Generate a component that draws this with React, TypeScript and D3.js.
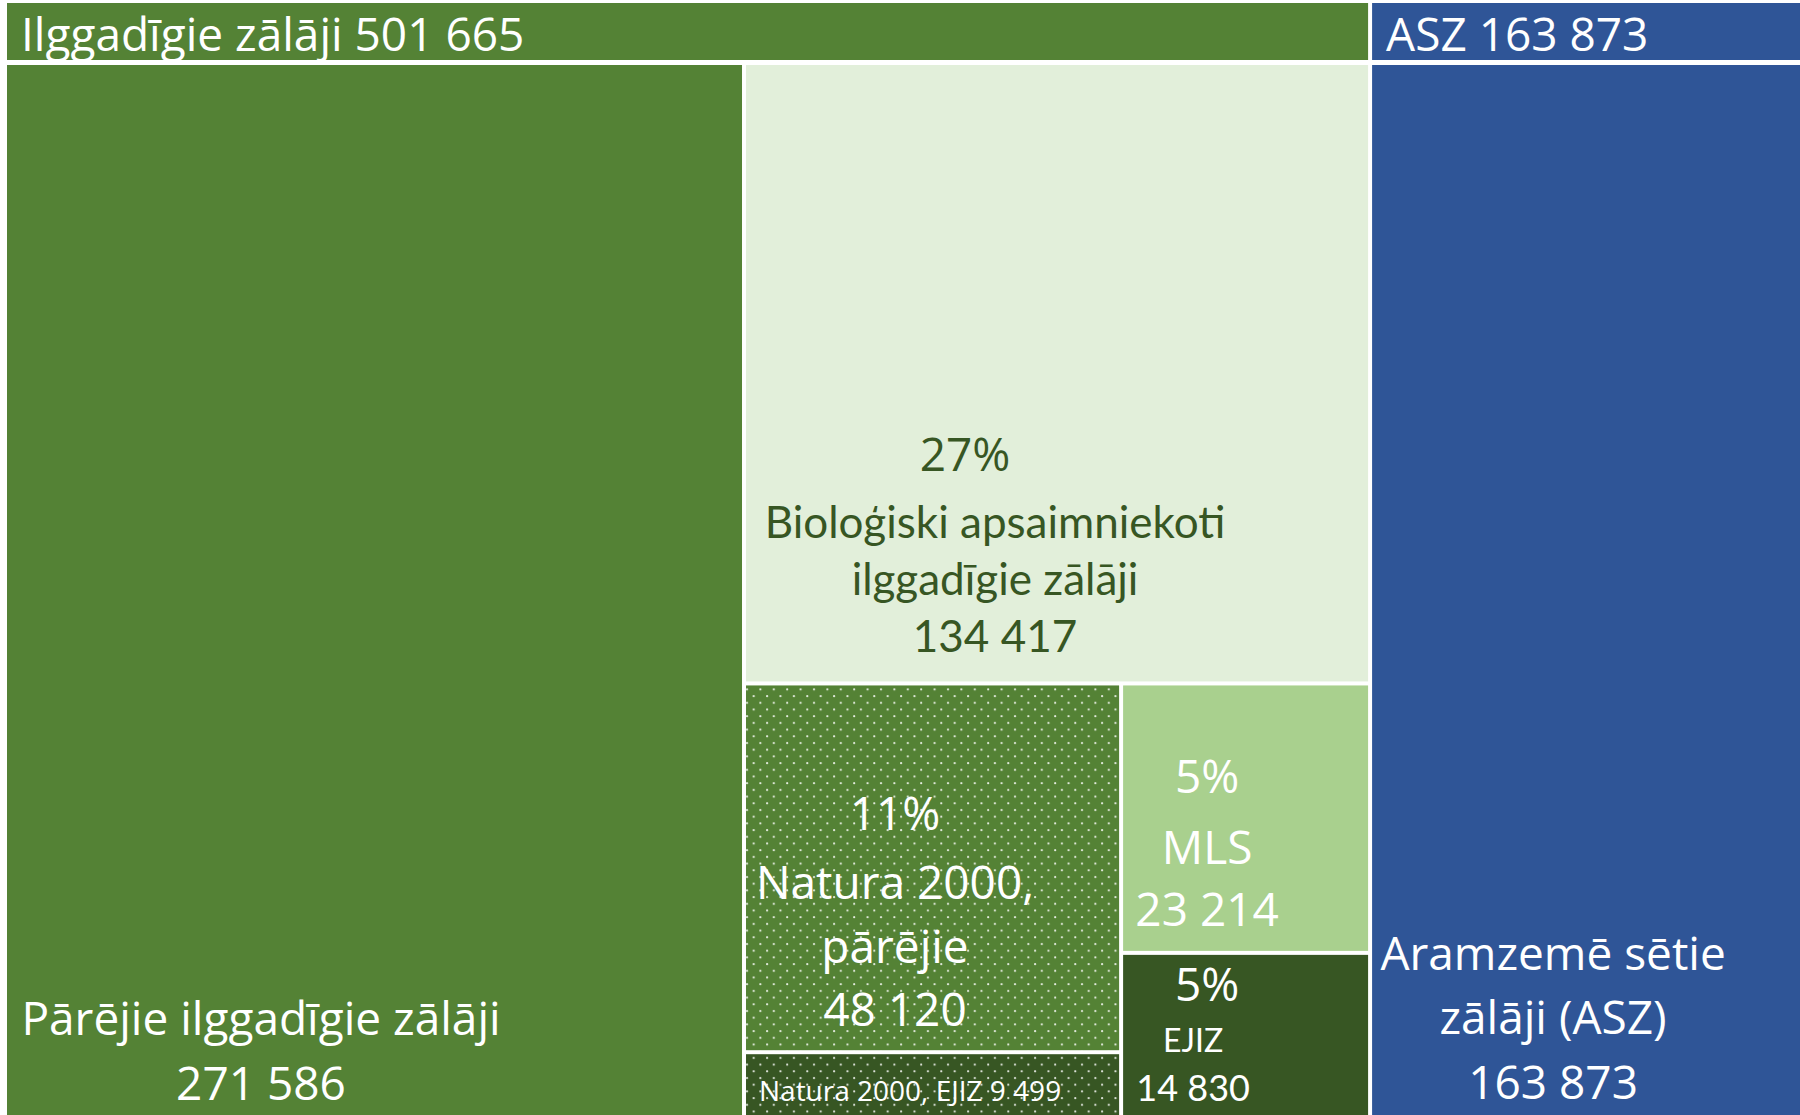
import React from "react";
import * as d3 from "d3";

// ---- data ----
const groupNames = ["Ilggadīgie zālāji", "ASZ"];
const groupTotals = [501665, 163873];
const leafNames = [
  "Pārējie ilggadīgie zālāji",
  "Bioloģiski apsaimniekoti ilggadīgie zālāji",
  "Natura 2000, pārējie",
  "Natura 2000, EJIZ",
  "MLS",
  "EJIZ",
  "Aramzemē sētie zālāji (ASZ)",
];
const leafValues = [271586, 134417, 48120, 9499, 23214, 14830, 163873];
const leafPercents: (number | null)[] = [null, 27, 11, null, 5, 5, null];

// ---- style ----
const W = 1800;
const H = 1115;
const GREEN = "#548235";
const DARK = "#375623";
const LIGHT = "#E2EFDA";
const MID = "#A9D08E";
const BLUE = "#2F5597";
const leafColors = [GREEN, LIGHT, GREEN, DARK, MID, DARK, BLUE];
const leafDotted = [false, false, true, true, false, false, false];
const SEGOE = "'Open Sans', 'Noto Sans', sans-serif";
const CALIBRI = "Lato, 'Noto Sans', sans-serif";

const fmt = (v: number) => d3.format(",")(v).replace(/,/g, " ");

type Line = { t: string; dx: number; dy: number; from: "top" | "bottom"; size: number; font: string; anchor: string };

function labelLines(i: number): Line[] {
  const v = fmt(leafValues[i]);
  const p = leafPercents[i] != null ? `${leafPercents[i]}%` : "";
  switch (i) {
    case 0:
      return [
        { t: "Pārējie ilggadīgie zālāji", dx: 254, dy: -88, from: "bottom", size: 46, font: SEGOE, anchor: "middle" },
        { t: v, dx: 254, dy: -23, from: "bottom", size: 46, font: SEGOE, anchor: "middle" },
      ];
    case 1:
      return [
        { t: p, dx: 219, dy: -210, from: "bottom", size: 46, font: SEGOE, anchor: "middle" },
        { t: "Bioloģiski apsaimniekoti", dx: 249, dy: -143, from: "bottom", size: 44, font: CALIBRI, anchor: "middle" },
        { t: "ilggadīgie zālāji", dx: 249, dy: -86, from: "bottom", size: 44, font: CALIBRI, anchor: "middle" },
        { t: v, dx: 249, dy: -29, from: "bottom", size: 44, font: CALIBRI, anchor: "middle" },
      ];
    case 2:
      return [
        { t: p, dx: 149, dy: -220, from: "bottom", size: 46, font: SEGOE, anchor: "middle" },
        { t: "Natura 2000,", dx: 149, dy: -151, from: "bottom", size: 46, font: SEGOE, anchor: "middle" },
        { t: "pārējie", dx: 149, dy: -87, from: "bottom", size: 46, font: SEGOE, anchor: "middle" },
        { t: v, dx: 149, dy: -24, from: "bottom", size: 46, font: SEGOE, anchor: "middle" },
      ];
    case 3:
      return [{ t: `Natura 2000, EJIZ ${v}`, dx: 13, dy: 47, from: "top", size: 28, font: SEGOE, anchor: "start" }];
    case 4:
      return [
        { t: p, dx: 84, dy: -158, from: "bottom", size: 46, font: SEGOE, anchor: "middle" },
        { t: "MLS", dx: 84, dy: -87, from: "bottom", size: 46, font: SEGOE, anchor: "middle" },
        { t: v, dx: 84, dy: -25, from: "bottom", size: 46, font: SEGOE, anchor: "middle" },
      ];
    case 5:
      return [
        { t: p, dx: 84, dy: 46, from: "top", size: 46, font: SEGOE, anchor: "middle" },
        { t: "EJIZ", dx: 70, dy: 97, from: "top", size: 32, font: CALIBRI, anchor: "middle" },
        { t: v, dx: 70, dy: 146, from: "top", size: 36, font: CALIBRI, anchor: "middle" },
      ];
    default:
      return [
        { t: "Aramzemē sētie", dx: 181, dy: -153, from: "bottom", size: 46, font: SEGOE, anchor: "middle" },
        { t: "zālāji (ASZ)", dx: 181, dy: -89, from: "bottom", size: 46, font: SEGOE, anchor: "middle" },
        { t: v, dx: 181, dy: -24, from: "bottom", size: 46, font: SEGOE, anchor: "middle" },
      ];
  }
}

type N = { name: string; dir?: "x" | "y"; header?: number; leaf?: number; value?: number; children?: N[] };

function leaf(i: number): N {
  return { name: leafNames[i], leaf: i, value: leafValues[i] };
}

const tree: N = {
  name: "root",
  dir: "x",
  children: [
    {
      name: groupNames[0],
      header: 0,
      dir: "x",
      children: [
        leaf(0),
        {
          name: "g1",
          dir: "y",
          children: [
            leaf(1),
            {
              name: "lower",
              dir: "x",
              children: [
                { name: "ng", dir: "y", children: [leaf(2), leaf(3)] },
                { name: "mg", dir: "y", children: [leaf(4), leaf(5)] },
              ],
            },
          ],
        },
      ],
    },
    { name: groupNames[1], header: 1, dir: "x", children: [leaf(6)] },
  ],
};

export default function App() {
  const root = d3.hierarchy<N>(tree).sum((d) => (d.children ? 0 : d.value || 0));
  const tile = (node: any, x0: number, y0: number, x1: number, y1: number) => {
    if (node.data.dir === "y") d3.treemapSlice(node, x0, y0, x1, y1);
    else d3.treemapDice(node, x0, y0, x1, y1);
  };
  const layout = d3
    .treemap<N>()
    .size([1807, 1120])
    .tile(tile as any)
    .paddingInner(4)
    .paddingTop((n: any) => (n.data.header != null ? 62 : 0));
  const r = layout(root);
  const leaves = r.leaves();
  const headers = r.descendants().filter((n) => n.data.header != null);

  return (
    <svg
      width={W}
      height={H}
      style={{ position: "absolute", left: 0, top: 0, background: "#fff" }}
    >
      <defs>
        <pattern id="dots" width={13.4} height={13.4} patternUnits="userSpaceOnUse">
          <circle cx={3} cy={3} r={1.1} fill="#fff" opacity={0.85} />
          <circle cx={9.7} cy={9.7} r={1.1} fill="#fff" opacity={0.85} />
        </pattern>
      </defs>
      <g transform="translate(7,3)">
        {headers.map((h, k) => (
          <g key={"h" + k}>
            <rect
              x={h.x0}
              y={h.y0}
              width={h.x1 - h.x0}
              height={57}
              fill={h.data.header === 0 ? GREEN : BLUE}
            />
            <text
              x={h.x0 + 14}
              y={h.y0 + 48}
              fill="#fff"
              fontFamily={SEGOE}
              fontSize={46}
            >
              {`${h.data.name} ${fmt(groupTotals[h.data.header as number])}`}
            </text>
          </g>
        ))}
        {leaves.map((l, k) => {
          const i = l.data.leaf as number;
          return (
            <g key={"l" + k}>
              <rect x={l.x0} y={l.y0} width={l.x1 - l.x0} height={l.y1 - l.y0} fill={leafColors[i]} />
              {leafDotted[i] && (
                <rect x={l.x0} y={l.y0} width={l.x1 - l.x0} height={l.y1 - l.y0} fill="url(#dots)" />
              )}
              {labelLines(i).map((ln, j) => (
                <text
                  key={j}
                  x={l.x0 + ln.dx}
                  y={(ln.from === "top" ? l.y0 : l.y1) + ln.dy}
                  textAnchor={ln.anchor as any}
                  fill={i === 1 ? DARK : "#fff"}
                  fontFamily={ln.font}
                  fontSize={ln.size}
                >
                  {ln.t}
                </text>
              ))}
            </g>
          );
        })}
      </g>
    </svg>
  );
}
